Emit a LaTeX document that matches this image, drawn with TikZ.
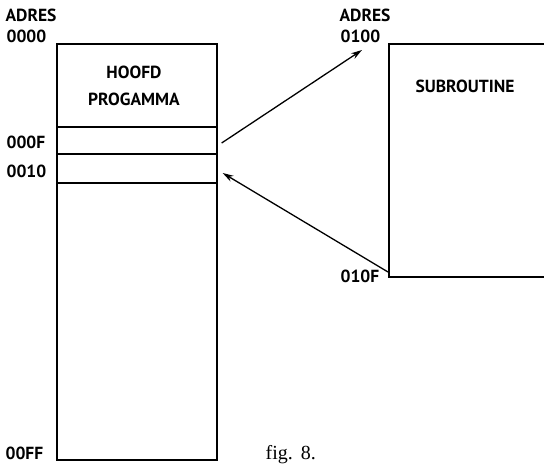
\documentclass[tikz,border=0pt]{standalone}
\usepackage{fontspec}
\setmainfont{Liberation Serif}
\newfontfamily\adresfont{PT Sans Bold}
\usetikzlibrary{arrows.meta}

\begin{document}
\begin{tikzpicture}[x=1pt,y=-1pt,line width=1.3pt,
  lbl/.style={font=\adresfont\fontsize{17.5}{27}\selectfont,inner sep=0pt},
  vak/.style={draw,minimum width=160,inner sep=0pt},
  pijl/.style={line width=1.3pt,-{Stealth[length=11pt,width=6.5pt]}}]
\useasboundingbox (0,0) rectangle (544,464);
% hoofdprogramma
\node[vak,minimum height=416] (hoofd) at (137,252) {};
\node[vak,minimum height=27] (vakf) at (137,140.5) {};
\node[vak,minimum height=29] (vak10) at (137,168.5) {};
\node[lbl,align=center] (titel) at (134,85.5) {HOOFD\\PROGAMMA};
\node[lbl,anchor=west] (adres1) at (5,15) {ADRES};
\node[lbl,anchor=west] (a0000) at (6,36.5) {0000};
\node[lbl,anchor=west] (a000f) at (6,142.5) {000F};
\node[lbl,anchor=west] (a0010) at (6,171) {0010};
\node[lbl,anchor=west] (a00ff) at (5,453) {00FF};
% subroutine
\coordinate (subtl) at (389,44);
\coordinate (subbl) at (389,277);
\draw (544,44) -- (subtl) -- (subbl) -- (544,277);
\node[lbl,anchor=west] (subnaam) at (415,86) {SUBROUTINE};
\node[lbl,anchor=west] (adres2) at (339,15) {ADRES};
\node[lbl,anchor=west] (a0100) at (340,36.5) {0100};
\node[lbl,anchor=west] (a010f) at (340,276.5) {010F};
% sprongen
\coordinate (doel) at (362,50);
\draw[pijl] ([shift={(4,2.5)}]vakf.east) -- (doel);
\draw[pijl] ([shift={(-1,-5)}]subbl) -- ([shift={(5,4.5)}]vak10.east);
\node[font=\fontsize{20}{24}\selectfont,anchor=base west,inner sep=0pt] (fig) at (265,459) {fig.\hspace{8pt}8.};
\end{tikzpicture}
\end{document}
